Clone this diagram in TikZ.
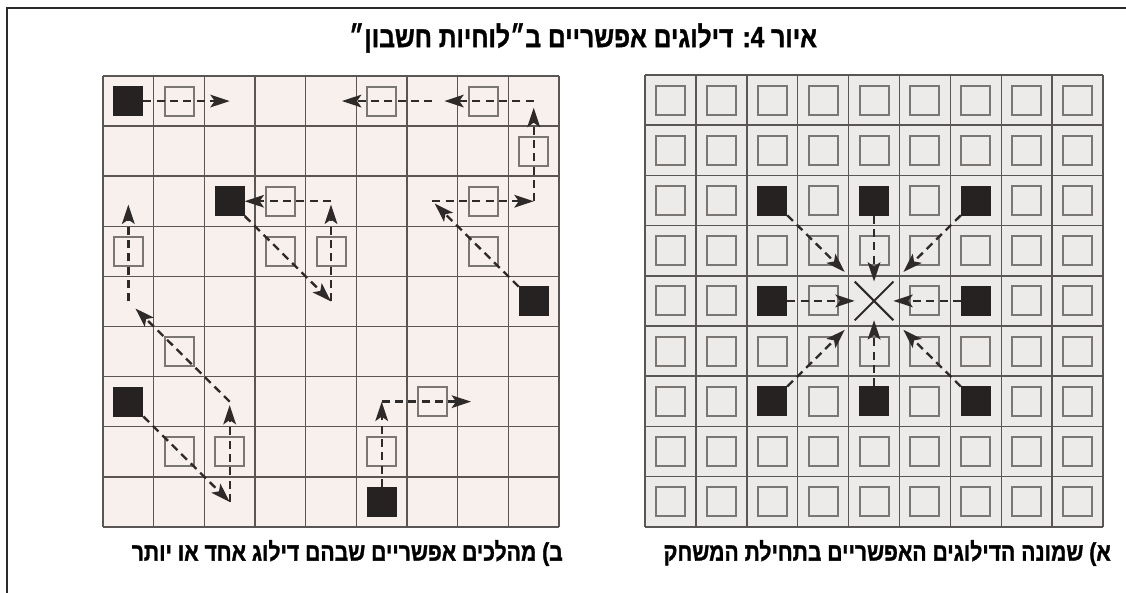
\documentclass[tikz,border=0pt]{standalone}
\usepackage{fontspec}
\newfontfamily\hebfont[Script=Hebrew,FakeStretch=0.84,FakeBold=1.2]{Liberation Sans Bold}
\TeXXeTstate=1
\usetikzlibrary{arrows.meta,shapes.misc}

\definecolor{gridline}{HTML}{5A5656}
\definecolor{boardA}{HTML}{EDEBE9}
\definecolor{boardB}{HTML}{F8F0EC}
\definecolor{hollow}{HTML}{7A7674}
\definecolor{piece}{HTML}{262222}
\definecolor{ink}{HTML}{2E2A2A}

\tikzset{
  gridrule/.style={draw=gridline, line width=0.45mm},
  hole/.style={draw=hollow, line width=0.6mm, minimum size=8.7mm, inner sep=0pt, outer sep=0pt},
  stone/.style={fill=piece, minimum size=9mm, inner sep=0pt, outer sep=0pt},
  jump/.style={draw=ink, line width=0.7mm, dash pattern=on 2.4mm off 1.6mm,
    -{Stealth[length=5.8mm,width=3.8mm,inset=1.3mm]}},
  heading/.style={font=\hebfont\fontsize{25}{29}\selectfont, inner sep=0pt},
  caption/.style={font=\hebfont\fontsize{21.5}{25}\selectfont, inner sep=0pt}
}

\begin{document}
\begin{tikzpicture}[x=0.3mm, y=-0.3mm]
\useasboundingbox (0,0) rectangle (1126,593);

% frame
\draw[ink, line width=0.7mm] (7,593) -- (7,8) -- (1126,8);

\node[heading] (title) at (583,38) {\beginR איור 4: דילוגים אפשריים ב״לוחיות חשבון״\endR};

% board (a)
\fill[boardA] (645,75) rectangle (1103,527);
\foreach \i in {0,...,9}{
  \draw[gridrule] ({645+\i*50.9},75) -- ({645+\i*50.9},527);
  \draw[gridrule] (645,{75+\i*50.2}) -- (1103,{75+\i*50.2});
}
\foreach \c in {1,...,9}
  \foreach \r in {1,...,9}
    \coordinate (R-\c-\r) at ({645+(\c-0.5)*50.9},{75+(\r-0.5)*50.2});
\foreach \c in {1,...,9}{
  \foreach \r in {1,...,9}{
    \pgfmathtruncatemacro\isstone{(mod(\c,2)==1)&&(\c>2)&&(\c<8)&&(mod(\r,2)==1)&&(\r>2)&&(\r<8)}
    \ifnum\isstone=0 \node[hole] at (R-\c-\r) {};\fi
  }
}
\foreach \c/\r in {3/3,5/3,7/3,3/5,7/5,3/7,5/7,7/7}
  \node[stone] (S-\c-\r) at (R-\c-\r) {};
\node[draw=ink, cross out, line width=0.6mm, minimum size=11mm, inner sep=0pt] (X) at (R-5-5) {};

\foreach \c/\r in {5/3,3/5,7/5,5/7}
  \draw[jump] (S-\c-\r) -- (X);
\foreach \c/\r in {3/3,7/3,3/7,7/7}
  \draw[jump, shorten >=4.2mm] (S-\c-\r) -- (X);

% board (b)
\fill[boardB] (103,76) rectangle (559,527);
\foreach \i in {0,...,9}{
  \draw[gridrule] ({103+\i*50.67},76) -- ({103+\i*50.67},527);
  \draw[gridrule] (103,{76+\i*50.1}) -- (559,{76+\i*50.1});
}
\foreach \c in {1,...,9}
  \foreach \r in {1,...,9}
    \coordinate (L-\c-\r) at ({103+(\c-0.5)*50.67},{76+(\r-0.5)*50.1});
\foreach \c/\r in {2/1,6/1,8/1,9/2,4/3,8/3,1/4,4/4,5/4,8/4,2/6,7/7,2/8,3/8,6/8}
  \node[hole] at (L-\c-\r) {};
\foreach \c/\r in {1/1,3/3,9/5,1/7,6/9}
  \node[stone] (B-\c-\r) at (L-\c-\r) {};

\draw[jump] (B-1-1) -- (L-3-1);

\draw[jump, shorten >=1mm] (B-9-5) -- (L-7-3);
\draw[jump] (L-7-3) -- (L-9-3);
\draw[jump, shorten >=2mm] (L-9-3) -- (L-9-1);
\draw[jump, shorten >=3.6mm] (L-9-1) -- (L-7-1);
\draw[jump, shorten >=3.3mm] (L-7-1) -- (L-5-1);

\draw[jump] (B-3-3) -- (L-5-5);
\draw[jump, shorten >=1mm] (L-5-5) -- (L-5-3);
\draw[jump] (L-5-3) -- (B-3-3);

\draw[jump] (B-1-7) -- (L-3-9);
\draw[jump, shorten >=1mm] (L-3-9) -- (L-3-7);
\draw[jump, shorten >=3mm] (L-3-7) -- (L-1-5);
\draw[jump, shorten >=1mm] (L-1-5) -- (L-1-3);

\draw[jump] (B-6-9) -- (L-6-7);
\draw[jump, shorten >=3.6mm] (L-6-7) -- (L-8-7);

% captions
\node[caption, anchor=east] (capA) at (1111,553) {\beginR א) שמונה הדילוגים האפשריים בתחילת המשחק\endR};
\node[caption, anchor=east] (capB) at (563,553) {\beginR ב) מהלכים אפשריים שבהם דילוג אחד או יותר\endR};
\end{tikzpicture}
\end{document}
